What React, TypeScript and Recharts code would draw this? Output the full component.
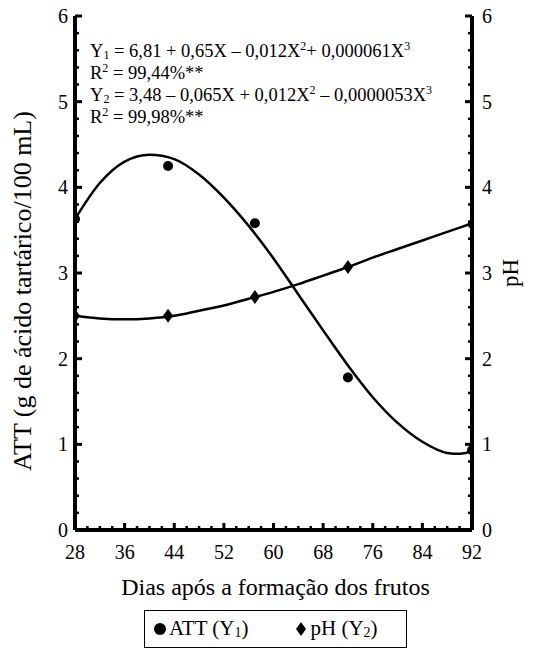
import React from 'react';
import { ComposedChart, Line, Scatter, XAxis, YAxis, Legend } from 'recharts';

// Observed means
const sampleDays = [28, 43, 57, 72, 92];
const attValues = [3.63, 4.25, 3.58, 1.78, 0.93];
const phValues = [2.5, 2.5, 2.72, 3.07, 3.57];

// Fitted curves
const curveDays = [28, 32, 36, 40, 44, 48, 52, 56, 60, 64, 68, 72, 76, 80, 84, 88, 90, 92];
const attCurve = [3.63, 4.05, 4.3, 4.38, 4.33, 4.15, 3.88, 3.55, 3.17, 2.75, 2.33, 1.92, 1.55, 1.25, 1.03, 0.9, 0.89, 0.92];
const phCurve = [2.5, 2.47, 2.46, 2.47, 2.5, 2.56, 2.62, 2.7, 2.78, 2.87, 2.97, 3.07, 3.18, 3.28, 3.38, 3.48, 3.53, 3.58];

const xTicks = [28, 30, 32, 34, 36, 38, 40, 42, 44, 46, 48, 50, 52, 54, 56, 58, 60, 62, 64, 66, 68, 70, 72, 74, 76, 78, 80, 82, 84, 86, 88, 90, 92];
const xLabelTicks = [28, 36, 44, 52, 60, 68, 76, 84, 92];
const yTicks = [0, 0.2, 0.4, 0.6, 0.8, 1, 1.2, 1.4, 1.6, 1.8, 2, 2.2, 2.4, 2.6, 2.8, 3, 3.2, 3.4, 3.6, 3.8, 4, 4.2, 4.4, 4.6, 4.8, 5, 5.2, 5.4, 5.6, 5.8, 6];
const yLabelTicks = [0, 1, 2, 3, 4, 5, 6];

const xTitle = 'Dias após a formação dos frutos';
const yLeftTitle = 'ATT (g de ácido tartárico/100 mL)';
const yRightTitle = 'pH';

const attPoints = sampleDays.map((d, i) => ({ x: d, y: attValues[i] }));
const phPoints = sampleDays.map((d, i) => ({ x: d, y: phValues[i] }));
const attLine = curveDays.map((d, i) => ({ x: d, y: attCurve[i] }));
const phLine = curveDays.map((d, i) => ({ x: d, y: phCurve[i] }));

const FONT = '"Liberation Serif", "DejaVu Serif", serif';
const TICK_FS = 20;

const XTick = (props: any) => {
  const { x, y, payload } = props;
  const v = payload.value;
  const major = xLabelTicks.includes(v);
  return (
    <g>
      <line x1={x} x2={x} y1={y} y2={y - (major ? 7 : 4)} stroke="#000" strokeWidth={major ? 3 : 2.5} />
      {major && (
        <text x={x} y={y + 29} textAnchor="middle" style={{ fontFamily: FONT }} fontSize={TICK_FS} fill="#000">
          {v}
        </text>
      )}
    </g>
  );
};

const YTickLeft = (props: any) => {
  const { x, y, payload } = props;
  const v = payload.value;
  const major = yLabelTicks.some((t) => Math.abs(t - v) < 1e-6);
  return (
    <g>
      <line x1={x} x2={x + (major ? 7 : 4)} y1={y} y2={y} stroke="#000" strokeWidth={major ? 3 : 2.5} />
      {major && (
        <text x={x - 7} y={y + 7} textAnchor="end" style={{ fontFamily: FONT }} fontSize={TICK_FS} fill="#000">
          {Math.round(v)}
        </text>
      )}
    </g>
  );
};

const YTickRight = (props: any) => {
  const { x, y, payload } = props;
  const v = payload.value;
  const major = yLabelTicks.some((t) => Math.abs(t - v) < 1e-6);
  return (
    <g>
      <line x1={x} x2={x - (major ? 7 : 4)} y1={y} y2={y} stroke="#000" strokeWidth={major ? 3 : 2.5} />
      {major && (
        <text x={x + 10} y={y + 7} textAnchor="start" style={{ fontFamily: FONT }} fontSize={TICK_FS} fill="#000">
          {Math.round(v)}
        </text>
      )}
    </g>
  );
};

const Circle = (props: any) => {
  const { cx, cy } = props;
  return <circle cx={cx} cy={cy} r={5} fill="#000" />;
};

const Diamond = (props: any) => {
  const { cx, cy } = props;
  return <path d={`M${cx},${cy - 7} L${cx + 5},${cy} L${cx},${cy + 7} L${cx - 5},${cy} Z`} fill="#000" />;
};

const XTitle = (props: any) => {
  const vb = props.viewBox || {};
  return (
    <text x={vb.x + vb.width / 2 + 2} y={vb.y + 65} textAnchor="middle" style={{ fontFamily: FONT }} fontSize={24} fill="#000">
      {xTitle}
    </text>
  );
};

const YLeftTitle = (props: any) => {
  const vb = props.viewBox || {};
  const cx = vb.x + 31;
  const cy = vb.y + vb.height / 2 + 18;
  return (
    <text x={cx} y={cy} transform={`rotate(-90, ${cx}, ${cy})`} textAnchor="middle" style={{ fontFamily: FONT }} fontSize={26} fill="#000">
      {yLeftTitle}
    </text>
  );
};

const YRightTitle = (props: any) => {
  const vb = props.viewBox || {};
  const cx = vb.x + 46;
  const cy = vb.y + vb.height / 2;
  return (
    <text x={cx} y={cy} transform={`rotate(-90, ${cx}, ${cy})`} textAnchor="middle" style={{ fontFamily: FONT }} fontSize={23} fill="#000">
      {yRightTitle}
    </text>
  );
};

const LegendBox = () => (
  <div
    style={{
      marginLeft: 144,
      width: 263,
      height: 38,
      boxSizing: 'border-box',
      border: '1.5px solid #000',
      display: 'flex',
      alignItems: 'center',
      fontFamily: FONT,
      fontSize: 21,
      color: '#000',
    }}
  >
    <svg width={14} height={14} style={{ marginLeft: 8 }}>
      <circle cx={7} cy={7} r={6} fill="#000" />
    </svg>
    <span style={{ marginLeft: 2 }}>
      ATT (Y<sub style={{ fontSize: 14, verticalAlign: '-0.15em' }}>1</sub>)
    </span>
    <svg width={12} height={16} style={{ marginLeft: 46 }}>
      <path d="M6,1 L11,8 L6,15 L1,8 Z" fill="#000" />
    </svg>
    <span style={{ marginLeft: 4 }}>
      pH (Y<sub style={{ fontSize: 14, verticalAlign: '-0.15em' }}>2</sub>)
    </span>
  </div>
);

const eqStyle: React.CSSProperties = {
  position: 'absolute',
  left: 90,
  top: 40,
  fontFamily: FONT,
  fontSize: 18.5,
  lineHeight: '22px',
  color: '#000',
  whiteSpace: 'nowrap',
};
const supS: React.CSSProperties = { fontSize: 12, verticalAlign: '0.55em', lineHeight: 0 };
const subS: React.CSSProperties = { fontSize: 12, verticalAlign: '-0.2em', lineHeight: 0 };

export default function App() {
  return (
    <div style={{ position: 'relative', width: 551, height: 649, margin: '-8px 0 0 -8px' }}>
      <ComposedChart width={551} height={649} margin={{ top: 16, right: 0, bottom: 1, left: 0 }}>
        <XAxis
          xAxisId="b"
          type="number"
          dataKey="x"
          domain={[28, 92]}
          ticks={xTicks}
          interval={0}
          allowDataOverflow
          height={80}
          axisLine={{ stroke: '#000', strokeWidth: 4 }}
          tickLine={false}
          tickSize={0}
          tickMargin={0}
          tick={<XTick />}
          label={<XTitle />}
        />
        <XAxis
          xAxisId="t"
          orientation="top"
          type="number"
          dataKey="x"
          domain={[28, 92]}
          height={0}
          axisLine={{ stroke: '#000', strokeWidth: 4 }}
          tick={false}
          tickLine={false}
        />
        <YAxis
          yAxisId="l"
          type="number"
          domain={[0, 6]}
          ticks={yTicks}
          interval={0}
          width={75}
          axisLine={{ stroke: '#000', strokeWidth: 4 }}
          tickLine={false}
          tickSize={0}
          tickMargin={0}
          tick={<YTickLeft />}
          label={<YLeftTitle />}
        />
        <YAxis
          yAxisId="r"
          orientation="right"
          type="number"
          domain={[0, 6]}
          ticks={yTicks}
          interval={0}
          width={79}
          axisLine={{ stroke: '#000', strokeWidth: 4 }}
          tickLine={false}
          tickSize={0}
          tickMargin={0}
          tick={<YTickRight />}
          label={<YRightTitle />}
        />
        <Line
          xAxisId="b"
          yAxisId="l"
          data={attLine}
          dataKey="y"
          type="monotone"
          stroke="#000"
          strokeWidth={2.5}
          dot={false}
          isAnimationActive={false}
          legendType="none"
        />
        <Line
          xAxisId="b"
          yAxisId="r"
          data={phLine}
          dataKey="y"
          type="monotone"
          stroke="#000"
          strokeWidth={2.5}
          dot={false}
          isAnimationActive={false}
          legendType="none"
        />
        <Scatter xAxisId="b" yAxisId="l" data={attPoints} dataKey="y" shape={<Circle />} isAnimationActive={false} name="ATT" />
        <Scatter xAxisId="b" yAxisId="r" data={phPoints} dataKey="y" shape={<Diamond />} isAnimationActive={false} name="pH" />
        <Legend verticalAlign="bottom" content={<LegendBox />} />
      </ComposedChart>
      <div style={eqStyle}>
        <div>
          Y<sub style={subS}>1</sub> = 6,81 + 0,65X – 0,012X<sup style={supS}>2</sup>+ 0,000061X<sup style={supS}>3</sup>
        </div>
        <div>
          R<sup style={supS}>2</sup> = 99,44%**
        </div>
        <div>
          Y<sub style={subS}>2</sub> = 3,48 – 0,065X + 0,012X<sup style={supS}>2</sup> – 0,0000053X<sup style={supS}>3</sup>
        </div>
        <div>
          R<sup style={supS}>2</sup> = 99,98%**
        </div>
      </div>
    </div>
  );
}
